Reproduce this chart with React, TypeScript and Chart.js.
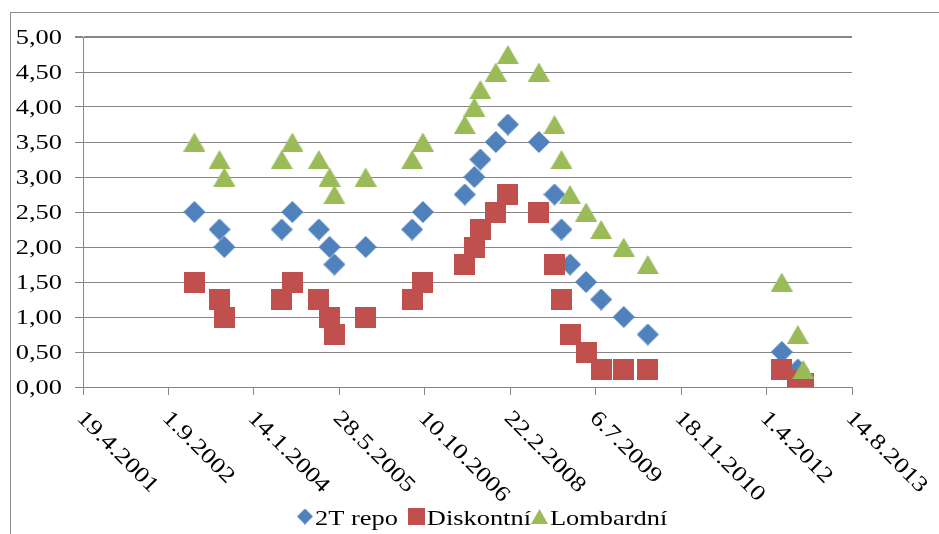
import React, { useEffect, useRef } from "react";
import { Chart, registerables } from "chart.js";
Chart.register(...registerables);

// Dates of rate changes (d.m.yyyy)
const dates = [
  "31.1.2003", "27.6.2003", "25.7.2003", "25.6.2004", "26.8.2004", "28.1.2005",
  "1.4.2005", "29.4.2005", "29.10.2005", "28.7.2006", "29.9.2006", "1.6.2007",
  "27.7.2007", "31.8.2007", "30.11.2007", "8.2.2008", "8.8.2008", "7.11.2008",
  "18.12.2008", "6.2.2009", "11.5.2009", "7.8.2009", "17.12.2009", "7.5.2010",
  "29.6.2012", "1.10.2012", "2.11.2012",
];
const repo = [2.5, 2.25, 2.0, 2.25, 2.5, 2.25, 2.0, 1.75, 2.0, 2.25, 2.5, 2.75, 3.0, 3.25, 3.5, 3.75, 3.5, 2.75, 2.25, 1.75, 1.5, 1.25, 1.0, 0.75, 0.5, 0.25, 0.05];
const diskont = [1.5, 1.25, 1.0, 1.25, 1.5, 1.25, 1.0, 0.75, 1.0, 1.25, 1.5, 1.75, 2.0, 2.25, 2.5, 2.75, 2.5, 1.75, 1.25, 0.75, 0.5, 0.25, 0.25, 0.25, 0.25, 0.1, 0.05];
const lombard = [3.5, 3.25, 3.0, 3.25, 3.5, 3.25, 3.0, 2.75, 3.0, 3.25, 3.5, 3.75, 4.0, 4.25, 4.5, 4.75, 4.5, 3.75, 3.25, 2.75, 2.5, 2.25, 2.0, 1.75, 1.5, 0.75, 0.25];
const seriesNames = ["2T repo", "Diskontní", "Lombardní"];
const xTickLabels = [
  "19.4.2001", "1.9.2002", "14.1.2004", "28.5.2005", "10.10.2006",
  "22.2.2008", "6.7.2009", "18.11.2010", "1.4.2012", "14.8.2013",
];
const yMin = 0;
const yMax = 5;
const yStep = 0.5;

const COLORS = ["#4F81BD", "#C0504D", "#9BBB59"];
const FONT = '22px "Liberation Serif", "Times New Roman", serif';
const STRETCH = 1.2;

function toDay(s: string): number {
  const [d, m, y] = s.split(".").map(Number);
  return Math.round(Date.UTC(y, m - 1, d) / 86400000);
}

function makeMarker(shape: string, color: string, w: number, h: number) {
  const c = document.createElement("canvas");
  c.width = w;
  c.height = h;
  const ctx = c.getContext("2d")!;
  ctx.fillStyle = color;
  ctx.beginPath();
  if (shape === "diamond") {
    ctx.moveTo(w / 2, 0);
    ctx.lineTo(w, h / 2);
    ctx.lineTo(w / 2, h);
    ctx.lineTo(0, h / 2);
  } else if (shape === "triangle") {
    ctx.moveTo(w / 2, 0);
    ctx.lineTo(w, h);
    ctx.lineTo(0, h);
  } else {
    ctx.rect(0, 0, w, h);
  }
  ctx.closePath();
  ctx.fill();
  return c;
}

export default function App() {
  const ref = useRef<HTMLCanvasElement | null>(null);

  useEffect(() => {
    document.body.style.margin = "0";
    const canvas = ref.current!;
    const xs = dates.map(toDay);
    const tickDays = xTickLabels.map(toDay);

    const markers = [
      makeMarker("diamond", COLORS[0], 22, 22),
      makeMarker("square", COLORS[1], 21, 21),
      makeMarker("triangle", COLORS[2], 22, 19),
    ];
    const legendMarkers = [
      makeMarker("diamond", COLORS[0], 16, 16),
      makeMarker("square", COLORS[1], 17, 17),
      makeMarker("triangle", COLORS[2], 17, 15),
    ];

    const series = [repo, diskont, lombard];

    const textPlugin = {
      id: "customText",
      afterDraw(chart: any) {
        const ctx = chart.ctx as CanvasRenderingContext2D;
        const xScale = chart.scales.x;
        const yScale = chart.scales.y;
        ctx.save();
        // outer frame
        ctx.strokeStyle = "#8f8f8f";
        ctx.lineWidth = 1;
        ctx.strokeRect(10.5, 12.5, 1000, 1000);

        ctx.fillStyle = "#000";
        ctx.font = FONT;
        // y labels
        for (let v = yMin; v <= yMax + 1e-9; v += yStep) {
          const y = yScale.getPixelForValue(v);
          ctx.save();
          ctx.translate(62, y + 1);
          ctx.scale(STRETCH, 1);
          ctx.textAlign = "right";
          ctx.textBaseline = "middle";
          ctx.fillText(v.toFixed(2).replace(".", ","), 0, 0);
          ctx.restore();
        }
        // x labels, rotated 45° clockwise
        const yBase = yScale.getPixelForValue(yMin);
        xTickLabels.forEach((lab, i) => {
          const x = xScale.getPixelForValue(tickDays[i]);
          ctx.save();
          ctx.translate(x - 7, yBase + 32);
          ctx.rotate(Math.PI / 4);
          ctx.scale(STRETCH, 1);
          ctx.textAlign = "left";
          ctx.textBaseline = "alphabetic";
          ctx.fillText(lab, 0, 0);
          ctx.restore();
        });
        // legend
        const gaps = [10, 0, 0];
        let cx = 297;
        const cy = 517;
        seriesNames.forEach((name, i) => {
          const m = legendMarkers[i];
          ctx.drawImage(m, cx, cy - m.height / 2 - 0.5);
          cx += m.width + 2;
          ctx.save();
          ctx.translate(cx, 525);
          ctx.scale(STRETCH, 1);
          ctx.textAlign = "left";
          ctx.textBaseline = "alphabetic";
          ctx.fillText(name, 0, 0);
          ctx.restore();
          cx += ctx.measureText(name).width * STRETCH + gaps[i];
        });
        ctx.restore();
      },
    };

    const chart = new Chart(canvas, {
      type: "scatter",
      data: {
        datasets: series.map((vals, i) => ({
          label: seriesNames[i],
          data: vals.map((v, j) => ({ x: xs[j], y: v })),
          pointStyle: markers[i] as any,
          pointRadius: 11,
          backgroundColor: COLORS[i],
          borderColor: COLORS[i],
          order: 2 - i,
          showLine: false,
        })),
      },
      options: {
        animation: false,
        responsive: false,
        maintainAspectRatio: false,
        layout: { padding: { left: 0, top: 37, right: 87, bottom: 0 } },
        plugins: {
          legend: { display: false },
          tooltip: { enabled: false },
        },
        scales: {
          x: {
            type: "linear",
            min: tickDays[0],
            max: tickDays[tickDays.length - 1],
            afterBuildTicks: (s: any) => {
              s.ticks = tickDays.map((v) => ({ value: v }));
            },
            afterFit: (s: any) => {
              s.height = 147;
            },
            ticks: { display: false },
            grid: {
              drawOnChartArea: false,
              drawTicks: true,
              tickLength: 8,
              color: "#868686",
            },
            border: { display: true, color: "#868686" },
          },
          y: {
            min: yMin,
            max: yMax,
            afterBuildTicks: (s: any) => {
              const t = [];
              for (let v = yMin; v <= yMax + 1e-9; v += yStep) t.push({ value: v });
              s.ticks = t;
            },
            afterFit: (s: any) => {
              s.width = 83;
            },
            ticks: { display: false },
            grid: {
              drawTicks: true,
              tickLength: 8,
              color: "#868686",
              lineWidth: (c: any) => (c.tick && c.tick.value === yMax ? 2 : 1),
            },
            border: { display: true, color: "#868686" },
          },
        },
      },
      plugins: [textPlugin],
    } as any);

    return () => chart.destroy();
  }, []);

  return (
    <div style={{ width: 939, height: 534, background: "#fff" }}>
      <canvas ref={ref} width={939} height={534} style={{ display: "block" }} />
    </div>
  );
}
